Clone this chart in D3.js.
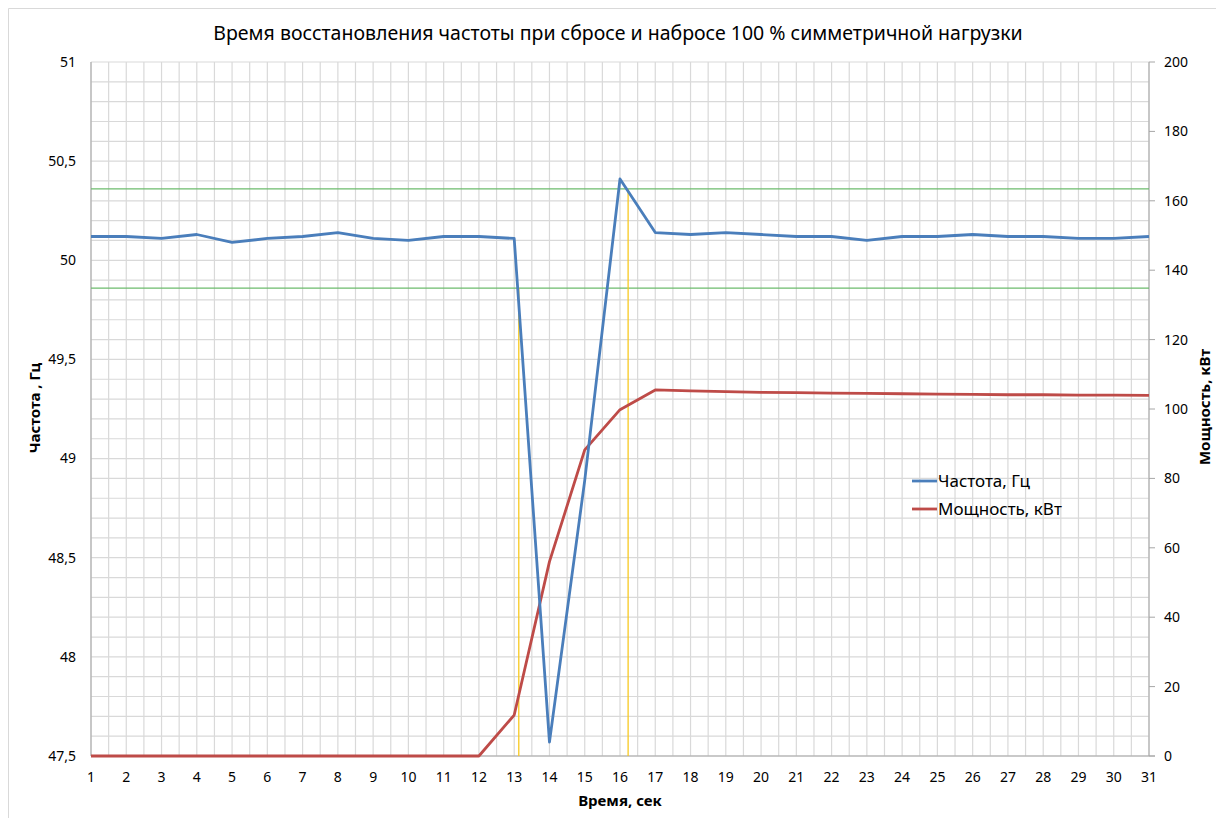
<!DOCTYPE html>
<html>
<head>
<meta charset="utf-8">
<script src="https://cdn.jsdelivr.net/npm/d3@7"></script>
<style>
    body { margin: 0; background: #ffffff; overflow: hidden; }
    text { font-family: "Noto Sans", "DejaVu Sans", sans-serif; fill: #000000; }
    .tick-label { font-size: 14px; }
    .axis-label { font-size: 15px; font-weight: bold; }
    .title { font-size: 19.5px; }
    .legend-label { font-size: 17px; }
</style>
</head>
<body>
<div id="chart"></div>
<script>
// time, sec (category labels)
const time = d3.range(1, 32);

// frequency, Hz
const frequency = [
    50.12, 50.12, 50.11, 50.13, 50.09, 50.11, 50.12, 50.14, 50.11, 50.10,
    50.12, 50.12, 50.11, 47.57, 48.89, 50.41, 50.14, 50.13, 50.14, 50.13,
    50.12, 50.12, 50.10, 50.12, 50.12, 50.13, 50.12, 50.12, 50.11, 50.11,
    50.12
];

// power, kW
const power = [
    0, 0, 0, 0, 0, 0, 0, 0, 0, 0,
    0, 0, 11.8, 56, 88.2, 99.8, 105.5, 105.2, 105.0, 104.8,
    104.7, 104.6, 104.5, 104.4, 104.3, 104.2, 104.1, 104.1, 104.0, 104.0,
    103.9
];

// tolerance band (green lines), Hz
const freqLimits = [50.36, 49.86];

// recovery markers (yellow lines): time and the limit they start from
const markerTimes = [13.13, 16.23];
const markerFreqs = [49.86, 50.36];

const freqTicks = [47.5, 48, 48.5, 49, 49.5, 50, 50.5, 51];
const powerTicks = [0, 20, 40, 60, 80, 100, 120, 140, 160, 180, 200];

const seriesNames = ["Частота, Гц", "Мощность, кВт"];
const seriesColors = ["#4a7ebb", "#be4b48"];

const width = 1216;
const height = 818;
const margin = { top: 62, right: 67, bottom: 62, left: 91 };
const innerWidth = width - margin.left - margin.right;
const innerHeight = height - margin.top - margin.bottom;

const svg = d3.select("#chart")
    .append("svg")
    .attr("width", width)
    .attr("height", height)
    .attr("viewBox", `0 0 ${width} ${height}`)
    .style("display", "block");

// chart frame: only the top and left edges are visible in the original
svg
    .append("path")
    .attr("d", `M8.5,${height} V8.5 H${width}`)
    .attr("fill", "none")
    .attr("stroke", "#d9d9d9");

const innerChart = svg.append("g")
    .attr("transform", `translate(${margin.left}, ${margin.top})`);

const xScale = d3.scaleLinear()
    .domain([1, 31])
    .range([0, innerWidth]);
const yScale = d3.scaleLinear()
    .domain([47.5, 51])
    .range([innerHeight, 0]);
const y2Scale = d3.scaleLinear()
    .domain([0, 200])
    .range([innerHeight, 0]);

// grid: every half second, every 0.1 Hz
innerChart
    .append("g")
    .selectAll("line")
    .data(d3.range(1, 31.01, 0.5))
    .join("line")
    .attr("x1", d => xScale(d))
    .attr("x2", d => xScale(d))
    .attr("y1", 0)
    .attr("y2", innerHeight)
    .attr("stroke", "#d9d9d9")
    .attr("stroke-width", 1.2);

innerChart
    .append("g")
    .selectAll("line")
    .data(yScale.ticks(35))
    .join("line")
    .attr("x1", 0)
    .attr("x2", innerWidth)
    .attr("y1", d => yScale(d))
    .attr("y2", d => yScale(d))
    .attr("stroke", "#d9d9d9")
    .attr("stroke-width", 1.2);

// axis lines
innerChart
    .append("line")
    .attr("x1", 0).attr("x2", 0)
    .attr("y1", 0).attr("y2", innerHeight)
    .attr("stroke", "#a6a6a6");
innerChart
    .append("line")
    .attr("x1", innerWidth).attr("x2", innerWidth)
    .attr("y1", 0).attr("y2", innerHeight)
    .attr("stroke", "#a6a6a6");
innerChart
    .append("line")
    .attr("x1", 0).attr("x2", innerWidth + 6)
    .attr("y1", innerHeight).attr("y2", innerHeight)
    .attr("stroke", "#a6a6a6");

// right axis tick marks
innerChart
    .append("g")
    .selectAll("line")
    .data(powerTicks)
    .join("line")
    .attr("x1", innerWidth)
    .attr("x2", innerWidth + 6)
    .attr("y1", d => y2Scale(d))
    .attr("y2", d => y2Scale(d))
    .attr("stroke", "#a6a6a6");

// tolerance band
innerChart
    .append("g")
    .selectAll("line")
    .data(freqLimits)
    .join("line")
    .attr("x1", 0)
    .attr("x2", innerWidth)
    .attr("y1", d => yScale(d))
    .attr("y2", d => yScale(d))
    .attr("stroke", "#6dbb6d")
    .attr("stroke-width", 1.3);

// recovery markers
innerChart
    .append("g")
    .selectAll("line")
    .data(markerTimes)
    .join("line")
    .attr("x1", d => xScale(d))
    .attr("x2", d => xScale(d))
    .attr("y1", (d, i) => yScale(markerFreqs[i]))
    .attr("y2", innerHeight)
    .attr("stroke", "#f7c920")
    .attr("stroke-width", 1.3);

// series
const freqLine = d3.line()
    .x((d, i) => xScale(time[i]))
    .y(d => yScale(d));
const powerLine = d3.line()
    .x((d, i) => xScale(time[i]))
    .y(d => y2Scale(d));

innerChart
    .append("path")
    .attr("d", powerLine(power))
    .attr("fill", "none")
    .attr("stroke", seriesColors[1])
    .attr("stroke-width", 2.8)
    .attr("stroke-linejoin", "round");

innerChart
    .append("path")
    .attr("d", freqLine(frequency))
    .attr("fill", "none")
    .attr("stroke", seriesColors[0])
    .attr("stroke-width", 2.8)
    .attr("stroke-linejoin", "round");

// tick labels
const fmt = d => String(d).replace(".", ",");

innerChart
    .append("g")
    .selectAll("text")
    .data(freqTicks)
    .join("text")
    .attr("class", "tick-label")
    .attr("x", -15)
    .attr("y", d => yScale(d))
    .attr("dy", "0.35em")
    .attr("text-anchor", "end")
    .text(fmt);

innerChart
    .append("g")
    .selectAll("text")
    .data(powerTicks)
    .join("text")
    .attr("class", "tick-label")
    .attr("x", innerWidth + 15)
    .attr("y", d => y2Scale(d))
    .attr("dy", "0.35em")
    .attr("text-anchor", "start")
    .text(d => d);

innerChart
    .append("g")
    .selectAll("text")
    .data(time)
    .join("text")
    .attr("class", "tick-label")
    .attr("x", d => xScale(d))
    .attr("y", innerHeight + 21)
    .attr("dy", "0.35em")
    .attr("text-anchor", "middle")
    .text(d => d);

// titles
svg
    .append("text")
    .attr("class", "title")
    .attr("x", 618)
    .attr("y", 40)
    .attr("text-anchor", "middle")
    .text("Время восстановления частоты при сбросе и набросе 100 % симметричной нагрузки");

svg
    .append("text")
    .attr("class", "axis-label")
    .attr("x", margin.left + innerWidth / 2)
    .attr("y", 806)
    .attr("text-anchor", "middle")
    .text("Время, сек");

svg
    .append("text")
    .attr("class", "axis-label")
    .attr("transform", "translate(40, 408) rotate(-90)")
    .attr("text-anchor", "middle")
    .text("Частота , Гц");

svg
    .append("text")
    .attr("class", "axis-label")
    .attr("transform", "translate(1210, 407) rotate(-90)")
    .attr("text-anchor", "middle")
    .text("Мощность, кВт");

// legend
const legend = svg.append("g")
    .attr("transform", "translate(912, 481)");

legend
    .selectAll("line")
    .data(seriesNames)
    .join("line")
    .attr("x1", 0)
    .attr("x2", 25)
    .attr("y1", (d, i) => i * 28)
    .attr("y2", (d, i) => i * 28)
    .attr("stroke", (d, i) => seriesColors[i])
    .attr("stroke-width", 2.8);

legend
    .selectAll("text")
    .data(seriesNames)
    .join("text")
    .attr("class", "legend-label")
    .attr("x", 26)
    .attr("y", (d, i) => i * 28)
    .attr("dy", "0.35em")
    .text(d => d);
</script>
</body>
</html>
